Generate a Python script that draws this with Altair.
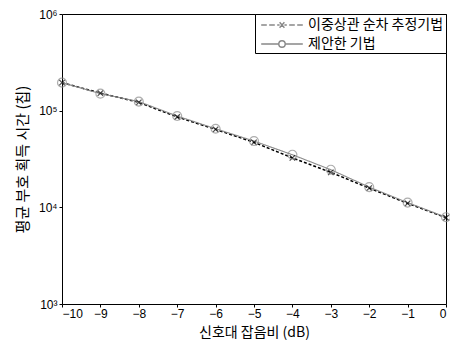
import altair as alt
import pandas as pd

snr = [-10, -9, -8, -7, -6, -5, -4, -3, -2, -1, 0]
conv = [195000, 152000, 122000, 86000, 64000, 47000, 32500, 23000, 15800, 11000, 7800]
prop = [195000, 150000, 124000, 88000, 65000, 48500, 35000, 24500, 16200, 11200, 7900]
names = ["이중상관 순차 추정기법", "제안한 기법"]

df = pd.DataFrame({
    "snr": snr * 2,
    "t": conv + prop,
    "s": [names[0]] * len(snr) + [names[1]] * len(snr),
})

color = alt.Color("s:N", scale=alt.Scale(domain=names, range=["#000000", "#8c8c8c"]), legend=None)
xenc = alt.X("snr:Q", scale=alt.Scale(domain=[-10, 0], nice=False),
             axis=alt.Axis(values=list(range(-10, 1)), title="신호대 잡음비 (dB)", grid=False,
                           tickSize=3, labelFontSize=12, titleFontSize=14, titlePadding=6,
                           labelPadding=1, domain=False))
yenc = alt.Y("t:Q", scale=alt.Scale(type="log", domain=[1000, 1000000], nice=False),
             axis=alt.Axis(values=[1000, 10000, 100000, 1000000], title="평균 부호 획득 시간 (칩)",
                           grid=False, tickSize=3, labelFontSize=12, titleFontSize=15,
                           domain=False, titlePadding=8,
                           labelExpr="datum.value==1000?'10³':datum.value==10000?'10⁴':datum.value==100000?'10⁵':'10⁶'"))

lines = alt.Chart(df).mark_line().encode(
    x=xenc, y=yenc, color=color,
    strokeDash=alt.StrokeDash("s:N", scale=alt.Scale(domain=names, range=[[3, 2], [1, 0]]), legend=None),
    strokeWidth=alt.StrokeWidth("s:N", scale=alt.Scale(domain=names, range=[1.5, 1.1]), legend=None),
)
pts = alt.Chart(df).mark_point(filled=False, strokeWidth=1.2).encode(
    x=xenc, y=yenc, color=color,
    shape=alt.Shape("s:N", scale=alt.Scale(domain=names, range=[
        "M-1,-1L1,1M-1,1L1,-1", "circle"]), legend=None),
    size=alt.Size("s:N", scale=alt.Scale(domain=names, range=[30, 80]), legend=None),
)
leg_paths = [
    "M-0.6,0H0.1M0.4,0H1.1M1.4,0H1.7M2.3,0H2.6M2.9,0H3.6M3.9,0H4.6M1.7,-0.35L2.3,0.35M1.7,0.35L2.3,-0.35",
    "M-0.6,0H1.6M2.4,0H4.6M2.4,0A0.4,0.4 0 1,1 1.6,0A0.4,0.4 0 1,1 2.4,0",
]
leg = alt.Chart(df).mark_point(filled=False, opacity=0, strokeWidth=1.4).encode(
    x=xenc, y=yenc,
    color=alt.Color("s:N", scale=alt.Scale(domain=names, range=["#000000", "#8c8c8c"]),
                    legend=alt.Legend(title=None, orient="top-right", offset=0)),
    shape=alt.Shape("s:N", scale=alt.Scale(domain=names, range=leg_paths),
                    legend=alt.Legend(title=None, orient="top-right", offset=0)),
)

chart = alt.layer(lines, pts, leg).resolve_scale(shape="independent").properties(
    width=384, height=290, padding={"left": 54, "top": 6, "right": 4, "bottom": 38},
    autosize=alt.AutoSizeParams(type="none"),
).configure_view(stroke="#000000", strokeWidth=1).configure_axis(
    labelFont="Liberation Sans, Noto Sans CJK KR", titleFont="Noto Sans CJK KR",
    labelColor="#000", titleColor="#000", tickColor="#000", titleFontWeight="normal",
).configure_legend(
    labelFont="Noto Sans CJK KR", labelFontSize=14, labelColor="#000",
    strokeColor="#000", fillColor="#ffffff", padding=2, symbolSize=256,
    symbolOpacity=1, symbolStrokeWidth=1.4, rowPadding=3, labelOffset=33,
)

chart.save("out.html", embed_options={"renderer": "svg", "actions": False})
